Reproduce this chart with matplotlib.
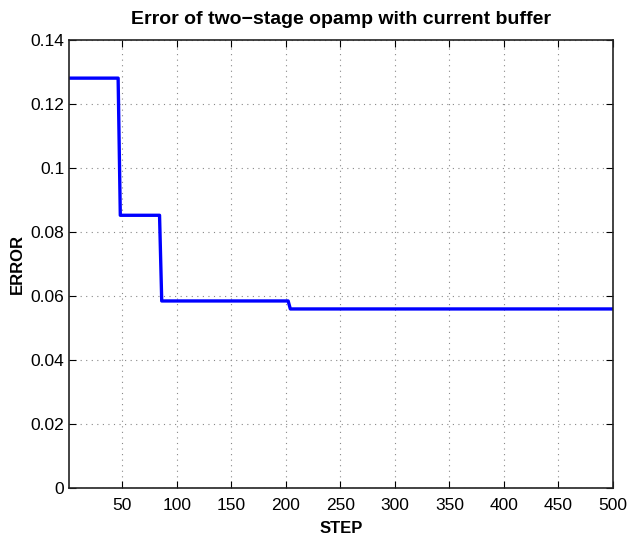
import matplotlib
matplotlib.use('Agg')
from matplotlib import pyplot as plt

# breakpoints of the error curve (step, error)
steps = [1, 46, 48, 84, 86, 202, 204, 500]
errors = [0.1282, 0.1282, 0.0853, 0.0853, 0.0585, 0.0585, 0.0560, 0.0560]

x_ticks = [50, 100, 150, 200, 250, 300, 350, 400, 450, 500]
y_ticks = [0, 0.02, 0.04, 0.06, 0.08, 0.1, 0.12, 0.14]
y_tick_labels = ['0', '0.02', '0.04', '0.06', '0.08', '0.1', '0.12', '0.14']

plt.rcParams['font.family'] = ['Liberation Sans', 'DejaVu Sans']

fig = plt.figure(figsize=(6.28, 5.36), dpi=100)
ax = fig.add_axes([0.110, 0.0896, 0.866, 0.835])

ax.plot(steps, errors, color='#0000ff', linewidth=2.4)

ax.set_xlim(1, 500)
ax.set_ylim(0, 0.14)
ax.set_xticks(x_ticks)
ax.set_yticks(y_ticks)
ax.set_yticklabels(y_tick_labels)
ax.tick_params(direction='in', labelsize=12.5, length=5, width=0.8, top=True, right=True)
ax.tick_params(axis='x', pad=7)

ax.grid(True, linestyle=(0, (1, 4)), color='#888888', linewidth=0.8)
for s in ax.spines.values():
    s.set_linewidth(1.2)
    s.set_color('#222222')

ax.set_title('Error of two\u2212stage opamp with current buffer', fontsize=14, fontweight='bold', pad=12)
ax.set_xlabel('STEP', fontsize=12, fontweight='bold', labelpad=6)
ax.set_ylabel('ERROR', fontsize=12, fontweight='bold', labelpad=4)

fig.savefig('out.png', dpi=100)
